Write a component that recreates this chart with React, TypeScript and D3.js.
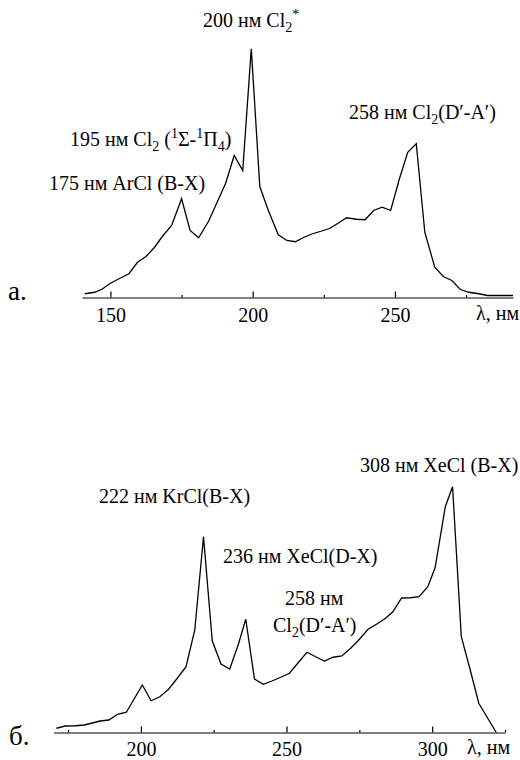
import { useRef, useEffect } from "react";
import * as d3 from "d3";

// panel а. — Ar/Cl2 mixture
const topWavelength = [
  141, 144.5, 147, 150, 153, 156.5, 159.5, 162.5, 165.5, 168.5,
  171.5, 175, 178, 181, 184.5, 187.5, 190.5, 193.5, 196.5, 199.5,
  202.5, 205.5, 209, 212, 215, 218, 221, 224, 227, 230,
  233, 236.5, 239.5, 242.5, 245.5, 248.5, 251.5, 254.5, 257.5, 260.5,
  264, 267, 270, 273, 276, 279.5, 282.5, 291.5,
];
const topIntensity = [
  1.5, 2.1, 3.3, 5.7, 7.5, 9.5, 14.1, 16.4, 20.1, 24.8,
  28.8, 39.5, 26.8, 23.9, 30.5, 38.1, 45.7, 56.8, 50.8, 99.5,
  44.4, 34.8, 25.1, 22.8, 22.3, 24.1, 25.5, 26.5, 27.6, 29.7,
  31.9, 31.3, 31.1, 34.8, 36.1, 34.8, 47.2, 58.1, 61.5, 26.1,
  12.1, 8.4, 6.8, 3.2, 2.1, 1.5, 0.8, 0.8,
];

// panel б. — Kr/Xe/Cl2 mixture
const bottomWavelength = [
  171, 174, 177.5, 180.5, 183, 186, 189, 192, 195, 200.5,
  203.5, 206.5, 209.5, 212.5, 215.5, 218.5, 221.5, 224.5, 227.5, 230.5,
  233.5, 236, 239, 242, 245, 248, 251, 254, 257, 260,
  263, 266, 269, 272, 274.5, 278, 281, 284, 286.5, 289.5,
  292.5, 295.5, 298.5, 301, 304.5, 307, 310, 313, 316, 322,
];
const bottomIntensity = [
  1.7, 2.6, 2.7, 3.0, 3.7, 4.6, 5.0, 7.3, 8.1, 19,
  12.7, 14.3, 17.3, 21.7, 26.3, 41, 78.3, 36.7, 27.4, 25.4,
  35.4, 45.3, 21.4, 19.3, 20.6, 22.1, 23.7, 27.9, 32.1, 30.3,
  28.6, 30.1, 30.6, 33.7, 36.6, 41.3, 43.4, 45.7, 48.3, 53.8,
  53.9, 54.3, 58.3, 65.9, 90.3, 98.3, 38.3, 25.3, 11.7, 0,
];

const topMajorTicks = [150, 200, 250];
const topMinorTicks = [175, 225, 275];
const bottomMajorTicks = [200, 250, 300];
const bottomMinorTicks = [175, 225, 275, 325];

const axisTitle = "λ, нм";
const panelLetters = ["а.", "б."];

// label pieces: [text, "" | "sub" | "sup"]
const topLabels = [
  [["200 нм Cl", ""], ["2", "sub"], ["*", "sup"]],
  [["195 нм Cl", ""], ["2", "sub"], [" (", ""], ["1", "sup"], ["Σ-", ""], ["1", "sup"], ["Π", ""], ["4", "sub"], [")", ""]],
  [["175 нм ArCl (B-X)", ""]],
  [["258 нм Cl", ""], ["2", "sub"], ["(D′-A′)", ""]],
];
const bottomLabels = [
  [["308 нм XeCl (B-X)", ""]],
  [["222 нм KrCl(B-X)", ""]],
  [["236 нм XeCl(D-X)", ""]],
  [["258 нм", ""]],
  [["Cl", ""], ["2", "sub"], ["(D′-A′)", ""]],
];

const FONT = "Liberation Serif";
const FS = 20;

const App = () => {
  const svgRef = useRef(null);

  useEffect(() => {
    document.body.style.margin = "0";
    const svg = d3.select(svgRef.current);
    svg.selectAll("*").remove();

    const writeLabel = (g, pieces, x, y) => {
      const text = g
        .append("text")
        .attr("x", x)
        .attr("y", y)
        .attr("font-family", FONT)
        .attr("font-size", FS)
        .attr("fill", "#000");
      let shift = 0;
      pieces.forEach(([t, kind]) => {
        const target = kind === "sub" ? 5 : kind === "sup" ? -8 : 0;
        text
          .append("tspan")
          .attr("dy", target - shift)
          .attr("font-size", kind ? 14 : FS)
          .text(t);
        shift = target;
      });
    };

    const drawPanel = (p) => {
      const g = svg.append("g");
      const x = d3.scaleLinear().domain(p.domain).range(p.range);
      const y = d3.scaleLinear().domain([0, 100]).range([p.base, p.base - 250]);

      const pts = p.wl.map((w, i) => [w, p.int[i]]);
      g.append("path")
        .datum(pts)
        .attr("fill", "none")
        .attr("stroke", "#000")
        .attr("stroke-width", 1.3)
        .attr("d", d3.line().x((d) => x(d[0])).y((d) => y(d[1])));

      const major = g
        .append("g")
        .attr("transform", `translate(0,${p.base})`)
        .call(
          d3.axisBottom(x)
            .tickValues(p.major)
            .tickSizeInner(-6)
            .tickSizeOuter(0)
            .tickPadding(p.pad)
            .tickFormat(d3.format("d"))
        );
      major.attr("font-family", FONT).attr("font-size", FS);
      major.selectAll("path, line").attr("stroke", "#000").attr("stroke-width", 1.2);
      major.selectAll("text").attr("fill", "#000");

      const minor = g
        .append("g")
        .attr("transform", `translate(0,${p.base})`)
        .call(
          d3.axisBottom(x)
            .tickValues(p.minor)
            .tickSizeInner(-2.5)
            .tickSizeOuter(0)
            .tickFormat(() => "")
        );
      minor.select(".domain").remove();
      minor.selectAll("line").attr("stroke", "#000").attr("stroke-width", 1.2);

      g.append("text")
        .attr("x", p.titleX)
        .attr("y", p.titleY)
        .attr("font-family", FONT)
        .attr("font-size", FS)
        .text(axisTitle);

      g.append("text")
        .attr("x", p.letterX)
        .attr("y", p.letterY)
        .attr("font-family", FONT)
        .attr("font-size", 27)
        .text(p.letter);

      p.labels.forEach((pieces, i) => writeLabel(g, pieces, p.labelPos[i][0], p.labelPos[i][1]));
    };

    drawPanel({
      wl: topWavelength,
      int: topIntensity,
      domain: [140, 291.5],
      range: [82, 513],
      base: 297.5,
      major: topMajorTicks,
      minor: topMinorTicks,
      pad: 10,
      titleX: 476,
      titleY: 320,
      letter: panelLetters[0],
      letterX: 8,
      letterY: 300,
      labels: topLabels,
      labelPos: [[203, 27], [70, 146], [49, 190], [349, 119]],
    });

    drawPanel({
      wl: bottomWavelength,
      int: bottomIntensity,
      domain: [170, 325],
      range: [53.5, 505],
      base: 732.5,
      major: bottomMajorTicks,
      minor: bottomMinorTicks,
      pad: 9,
      titleX: 467,
      titleY: 754,
      letter: panelLetters[1],
      letterX: 9,
      letterY: 745,
      labels: bottomLabels,
      labelPos: [[360, 472], [99, 503], [223, 563], [285, 605], [273, 632]],
    });
  }, []);

  return <svg ref={svgRef} width="520" height="760" style={{ display: "block", background: "#fff" }} />;
};

export default App;
